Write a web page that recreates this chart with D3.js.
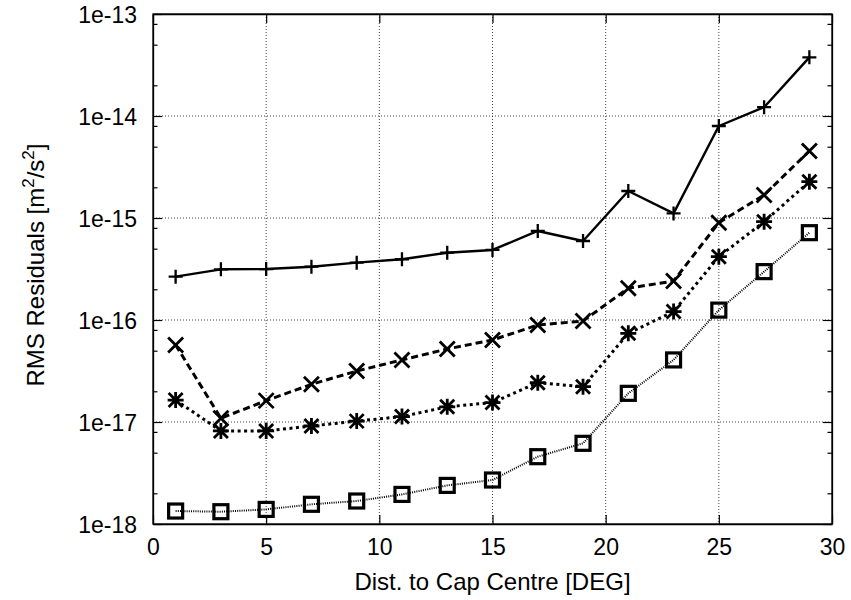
<!DOCTYPE html>
<html><head><meta charset="utf-8">
<script src="https://cdn.jsdelivr.net/npm/d3@7"></script>
<style>
html,body{margin:0;padding:0;background:#fff;}
svg{display:block;}
text{font-family:"Liberation Sans",Arial,Helvetica,sans-serif;fill:#000;}
</style></head>
<body><svg id="chart" width="851" height="600"></svg>
<script>
// ---- data ----
const xValues = [1,3,5,7,9,11,13,15,17,19,21,23,25,27,29];
const seriesPlus   = [2.66e-16,3.14e-16,3.16e-16,3.33e-16,3.65e-16,3.94e-16,4.57e-16,4.86e-16,7.46e-16,5.95e-16,1.84e-15,1.11e-15,7.98e-15,1.22e-14,3.76e-14];
const seriesCross  = [5.69e-17,1.09e-17,1.62e-17,2.34e-17,3.16e-17,4.06e-17,5.2e-17,6.37e-17,8.93e-17,9.77e-17,2.05e-16,2.41e-16,9.0e-16,1.68e-15,4.54e-15];
const seriesStar   = [1.64e-17,8.17e-18,8.17e-18,9.14e-18,1.02e-17,1.13e-17,1.41e-17,1.55e-17,2.43e-17,2.22e-17,7.4e-17,1.21e-16,4.18e-16,9.2e-16,2.27e-15];
const seriesSquare = [1.34e-18,1.32e-18,1.39e-18,1.56e-18,1.68e-18,1.95e-18,2.39e-18,2.70e-18,4.57e-18,6.18e-18,1.91e-17,4.06e-17,1.25e-16,2.98e-16,7.18e-16];
const xTicks = [0,5,10,15,20,25,30];
const yTicks = [1e-18,1e-17,1e-16,1e-15,1e-14,1e-13];
const yTickLabels = ["1e-18","1e-17","1e-16","1e-15","1e-14","1e-13"];
const xTitle = "Dist. to Cap Centre [DEG]";

// ---- layout ----
const W = 851, H = 600;
const m = {left:153, right:19, top:14, bottom:76};
const iw = W - m.left - m.right, ih = H - m.top - m.bottom;
const svg = d3.select("#chart");
const g = svg.append("g").attr("transform",`translate(${m.left},${m.top})`);

const x = d3.scaleLinear().domain([0,30]).range([0,iw]);
const y = d3.scaleLog().domain([1e-18,1e-13]).range([ih,0]);

// minor ticks at 2,5,8 of each decade
const yMinor = [];
for (let e=-18;e<-13;e++){ [2,5,8].forEach(k=>yMinor.push(k*Math.pow(10,e))); }

// grid
const gridStyle = sel => sel.attr("stroke","#444").attr("stroke-width",1).attr("stroke-dasharray","1,2").attr("fill","none");
g.append("g").selectAll("line").data(xTicks.slice(1,-1)).join("line")
  .attr("x1",d=>x(d)).attr("x2",d=>x(d)).attr("y1",0).attr("y2",ih).call(gridStyle);
g.append("g").selectAll("line").data(yTicks.slice(1,-1)).join("line")
  .attr("y1",d=>y(d)).attr("y2",d=>y(d)).attr("x1",0).attr("x2",iw).call(gridStyle);

// axes
function styleAxis(a){ a.selectAll("path").attr("stroke","#000").attr("stroke-width",1.3);
  a.selectAll("line").attr("stroke","#000").attr("stroke-width",1.2);
  a.selectAll("text").attr("font-size",23).attr("font-family",'"Liberation Sans",Arial,sans-serif'); }

const ax = g.append("g").attr("transform",`translate(0,${ih})`)
  .call(d3.axisBottom(x).tickValues(xTicks).tickSizeInner(-9).tickSizeOuter(0).tickPadding(31).tickFormat(d3.format("d")));
styleAxis(ax);
const axTop = g.append("g").call(d3.axisTop(x).tickValues(xTicks).tickSizeInner(-9).tickSizeOuter(0).tickFormat(""));
styleAxis(axTop);

const ay = g.append("g")
  .call(d3.axisLeft(y).tickValues(yTicks).tickSizeInner(-9).tickSizeOuter(0).tickPadding(16).tickFormat((d,i)=>yTickLabels[i]));
styleAxis(ay);
const ayMinor = g.append("g").call(d3.axisLeft(y).tickValues(yMinor).tickSizeInner(-4.5).tickSizeOuter(0).tickFormat(""));
styleAxis(ayMinor); ayMinor.select("path").remove();
const ayR = g.append("g").attr("transform",`translate(${iw},0)`)
  .call(d3.axisRight(y).tickValues(yTicks).tickSizeInner(-9).tickSizeOuter(0).tickFormat(""));
styleAxis(ayR);
const ayRMinor = g.append("g").attr("transform",`translate(${iw},0)`)
  .call(d3.axisRight(y).tickValues(yMinor).tickSizeInner(-4.5).tickSizeOuter(0).tickFormat(""));
styleAxis(ayRMinor); ayRMinor.select("path").remove();
ax.selectAll("text").attr("dy","0");
ay.selectAll("text").attr("dy","0.36em");

// frame
g.append("rect").attr("x",0).attr("y",0).attr("width",iw).attr("height",ih)
  .attr("fill","none").attr("stroke","#000").attr("stroke-width",1.3);

// series
const series = [
  {vals:seriesSquare, dash:"1,1.2", width:2, marker:"square"},
  {vals:seriesStar, dash:"3,3.5", width:3, marker:"star"},
  {vals:seriesCross, dash:"7,4", width:3, marker:"cross"},
  {vals:seriesPlus, dash:null, width:2.4, marker:"plus"}
];
const line = d3.line().x(d=>x(d[0])).y(d=>y(d[1]));
series.forEach(s=>{
  const pts = xValues.map((xv,i)=>[xv,s.vals[i]]);
  g.append("path").datum(pts).attr("d",line).attr("fill","none").attr("stroke","#000")
    .attr("stroke-width",s.width).attr("stroke-dasharray",s.dash).attr("stroke-linejoin","round");
  const mg = g.append("g");
  pts.forEach(p=>{
    const cx = x(p[0]), cy = y(p[1]);
    if (s.marker==="plus"){
      const r=7;
      mg.append("path").attr("d",`M${cx-r},${cy}H${cx+r}M${cx},${cy-r}V${cy+r}`).attr("stroke","#000").attr("stroke-width",2.3);
    } else if (s.marker==="cross"){
      const r=7.5;
      mg.append("path").attr("d",`M${cx-r},${cy-r}L${cx+r},${cy+r}M${cx-r},${cy+r}L${cx+r},${cy-r}`).attr("stroke","#000").attr("stroke-width",2.8);
    } else if (s.marker==="star"){
      const r=7, rp=8;
      mg.append("path").attr("d",`M${cx-r},${cy-r}L${cx+r},${cy+r}M${cx-r},${cy+r}L${cx+r},${cy-r}M${cx-rp},${cy}H${cx+rp}M${cx},${cy-rp}V${cy+rp}`).attr("stroke","#000").attr("stroke-width",2.8);
    } else {
      const h=7;
      mg.append("rect").attr("x",cx-h).attr("y",cy-h).attr("width",2*h).attr("height",2*h)
        .attr("fill","none").attr("stroke","#000").attr("stroke-width",3.2);
    }
  });
});

// titles
svg.append("text").attr("x",m.left+iw/2).attr("y",590).attr("text-anchor","middle").attr("font-size",24).text(xTitle);
const yt = svg.append("text").attr("transform",`translate(44,${m.top+ih/2-4}) rotate(-90)`).attr("text-anchor","middle").attr("font-size",24);
yt.append("tspan").text("RMS Residuals [m");
yt.append("tspan").attr("font-size",17).attr("dy",-10).text("2");
yt.append("tspan").attr("dy",10).text("/s");
yt.append("tspan").attr("font-size",17).attr("dy",-10).text("2");
yt.append("tspan").attr("dy",10).text("]");
</script></body></html>
